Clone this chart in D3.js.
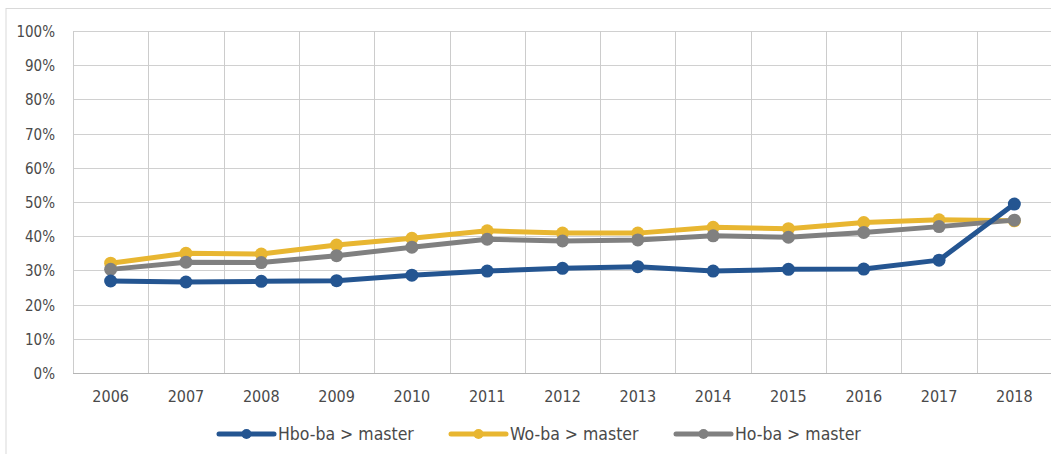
<!DOCTYPE html>
<html>
<head>
<meta charset="utf-8">
<script src="https://cdn.jsdelivr.net/npm/d3@7"></script>
<style>
	body { margin: 0; background: #fff; }
	svg text { font-family: "DejaVu Sans Condensed", "DejaVu Sans", sans-serif; font-stretch: condensed; fill: #4a4a4a; }
</style>
</head>
<body>
<div id="chart"></div>
<script>
var years = ["2006","2007","2008","2009","2010","2011","2012","2013","2014","2015","2016","2017","2018"];
var hboBa = [26.9, 26.6, 26.8, 27.0, 28.6, 29.8, 30.6, 31.1, 29.8, 30.3, 30.4, 33.0, 49.4];
var woBa  = [32.1, 35.0, 34.8, 37.4, 39.4, 41.6, 40.9, 40.9, 42.6, 42.2, 44.0, 44.8, 44.5];
var hoBa  = [30.3, 32.4, 32.3, 34.3, 36.8, 39.1, 38.6, 38.9, 40.1, 39.7, 41.1, 42.8, 44.7];
var yTicks = [0, 10, 20, 30, 40, 50, 60, 70, 80, 90, 100];

var seriesNames = ["Hbo-ba > master", "Wo-ba > master", "Ho-ba > master"];
var seriesColors = ["#245591", "#e8b631", "#808080"];

function init(){
	var w = 1051;
	var h = 454;

	var svg = d3.select("#chart")
				.append("svg")
				.attr("width", w)
				.attr("height", h);

	var x = d3.scaleBand()
				.domain(years)
				.range([73, 1052]);

	var y = d3.scaleLinear()
				.domain([0, 100])
				.range([373, 31]);

	// outer frame (only left and top are visible)
	svg.append("line")
		.attr("x1", 6).attr("x2", 6)
		.attr("y1", 8).attr("y2", h)
		.attr("stroke", "#d9d9d9");
	svg.append("line")
		.attr("x1", 6).attr("x2", w)
		.attr("y1", 8.5).attr("y2", 8.5)
		.attr("stroke", "#d9d9d9");

	// horizontal grid
	svg.selectAll(".hgrid")
		.data(yTicks)
		.enter()
		.append("line")
		.attr("class", "hgrid")
		.attr("x1", x.range()[0])
		.attr("x2", x.range()[1])
		.attr("y1", function(d){ return Math.round(y(d)) + 0.5; })
		.attr("y2", function(d){ return Math.round(y(d)) + 0.5; })
		.attr("stroke", function(d){ return d == 0 ? "#b5b5b5" : "#d0d0d0"; })
		.attr("stroke-width", 1);

	// vertical grid at category boundaries
	svg.selectAll(".vgrid")
		.data(years)
		.enter()
		.append("line")
		.attr("class", "vgrid")
		.attr("x1", function(d){ return Math.round(x(d)) + 0.5; })
		.attr("x2", function(d){ return Math.round(x(d)) + 0.5; })
		.attr("y1", y(100))
		.attr("y2", y(0))
		.attr("stroke", "#cccccc")
		.attr("stroke-width", 1);

	// y labels
	svg.selectAll(".ylab")
		.data(yTicks)
		.enter()
		.append("text")
		.attr("class", "ylab")
		.attr("x", 55)
		.attr("y", function(d){ return y(d) + 6; })
		.attr("text-anchor", "end")
		.style("font-size", "15px")
		.text(function(d){ return d + "%"; });

	// x labels
	svg.selectAll(".xlab")
		.data(years)
		.enter()
		.append("text")
		.attr("class", "xlab")
		.attr("x", function(d){ return x(d) + x.bandwidth() / 2; })
		.attr("y", 402)
		.attr("text-anchor", "middle")
		.style("font-size", "16px")
		.text(function(d){ return d; });

	var line = d3.line()
				.x(function(d, i){ return x(years[i]) + x.bandwidth() / 2; })
				.y(function(d){ return y(d); });

	var allSeries = [hboBa, woBa, hoBa];
	var drawOrder = [1, 2, 0];

	drawOrder.forEach(function(s){
		var g = svg.append("g");
		g.append("path")
			.datum(allSeries[s])
			.attr("d", line)
			.attr("fill", "none")
			.attr("stroke", seriesColors[s])
			.attr("stroke-width", 5)
			.attr("stroke-linejoin", "round")
			.attr("stroke-linecap", "round");
		g.selectAll("circle")
			.data(allSeries[s])
			.enter()
			.append("circle")
			.attr("cx", function(d, i){ return x(years[i]) + x.bandwidth() / 2; })
			.attr("cy", function(d){ return y(d); })
			.attr("r", 6.5)
			.attr("fill", seriesColors[s]);
	});

	// legend
	var legendX = [219, 451, 676];
	var legend = svg.selectAll(".legend")
		.data(seriesNames)
		.enter()
		.append("g")
		.attr("class", "legend")
		.attr("transform", function(d, i){ return "translate(" + legendX[i] + ",434)"; });

	legend.append("line")
		.attr("x1", 0).attr("x2", 55)
		.attr("y1", 0).attr("y2", 0)
		.attr("stroke", function(d, i){ return seriesColors[i]; })
		.attr("stroke-width", 5)
		.attr("stroke-linecap", "round");
	legend.append("circle")
		.attr("cx", 27.5)
		.attr("cy", 0)
		.attr("r", 5)
		.attr("fill", function(d, i){ return seriesColors[i]; });
	legend.append("text")
		.attr("x", 59)
		.attr("y", 6)
		.style("font-size", "17.5px")
		.text(function(d){ return d; });
}

window.onload = init;
</script>
</body>
</html>
